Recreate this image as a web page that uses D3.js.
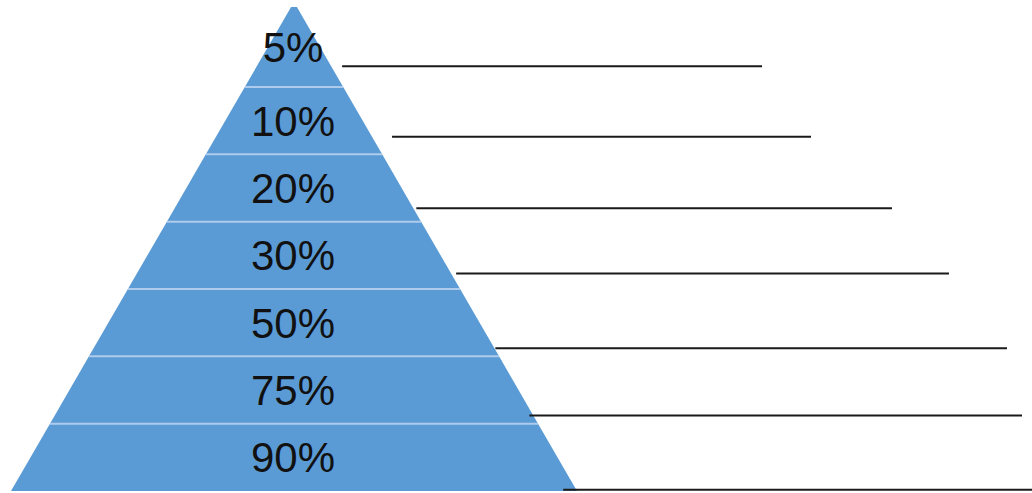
<!DOCTYPE html>
<html>
<head>
<meta charset="utf-8">
<script src="https://cdn.jsdelivr.net/npm/d3@7"></script>
<style>
  html, body { margin: 0; padding: 0; background: #fff; }
  svg { display: block; }
</style>
</head>
<body>
<div id="chart"></div>
<script>
// pyramid tiers, top to bottom
var levels = ['5%', '10%', '20%', '30%', '50%', '75%', '90%'];

// blank answer lines to the right of each tier (row position in tier units, right end in px-space units)
var blankRow = [0.69, 1.74, 2.80, 3.77, 4.88, 5.88, 6.98];
var blankGap = [11, 20, 3, 5, 1, -4, -13];
var blankEnd = [762, 811, 892, 949, 1007, 1022, 1040];

var width = 1032, height = 493;

var svg = d3.select('#chart').append('svg')
    .attr('width', width)
    .attr('height', height);

var cx = 294;
var apexY = 2, topY = 7, baseY = 491;

// tier boundaries: row 1 .. row 7
var y = d3.scaleLinear().domain([1, levels.length]).range([87, baseY]);
// half width of the triangle at a given y
var half = d3.scaleLinear().domain([apexY, baseY]).range([0, 283]);

function bandTop(i) { return i === 0 ? topY : y(i); }
function bandBottom(i) { return y(i + 1); }

var bands = svg.append('g');

bands.selectAll('path')
    .data(levels)
    .enter()
    .append('path')
    .attr('d', function(d, i) {
        var t = bandTop(i), b = bandBottom(i);
        return 'M' + (cx - half(t)) + ',' + t +
               'L' + (cx + half(t)) + ',' + t +
               'L' + (cx + half(b)) + ',' + b +
               'L' + (cx - half(b)) + ',' + b + 'Z';
    })
    .attr('fill', '#5b9bd5');

// light separators between tiers
bands.selectAll('line')
    .data(levels.slice(1))
    .enter()
    .append('line')
    .attr('x1', function(d, i) { return cx - half(y(i + 1)); })
    .attr('x2', function(d, i) { return cx + half(y(i + 1)); })
    .attr('y1', function(d, i) { return y(i + 1); })
    .attr('y2', function(d, i) { return y(i + 1); })
    .attr('stroke', '#aecbeb')
    .attr('stroke-width', 2);

svg.append('g').selectAll('text')
    .data(levels)
    .enter()
    .append('text')
    .attr('x', cx - 1)
    .attr('y', function(d, i) { return (bandTop(i) + bandBottom(i)) / 2 + 15; })
    .attr('text-anchor', 'middle')
    .style('font-family', '"Liberation Sans", Arial, sans-serif')
    .style('font-size', '42px')
    .style('fill', '#111')
    .text(function(d) { return d; });

// answer blanks
var rowY = d3.scaleLinear().domain([1, levels.length]).range([87, baseY]);

svg.append('g').selectAll('line')
    .data(blankRow)
    .enter()
    .append('line')
    .attr('x1', function(d, i) { var yy = rowY(d); return cx + half(yy) + blankGap[i]; })
    .attr('x2', function(d, i) { return blankEnd[i]; })
    .attr('y1', function(d) { return rowY(d); })
    .attr('y2', function(d) { return rowY(d); })
    .attr('stroke', '#1a1a1a')
    .attr('stroke-width', 2);
</script>
</body>
</html>
